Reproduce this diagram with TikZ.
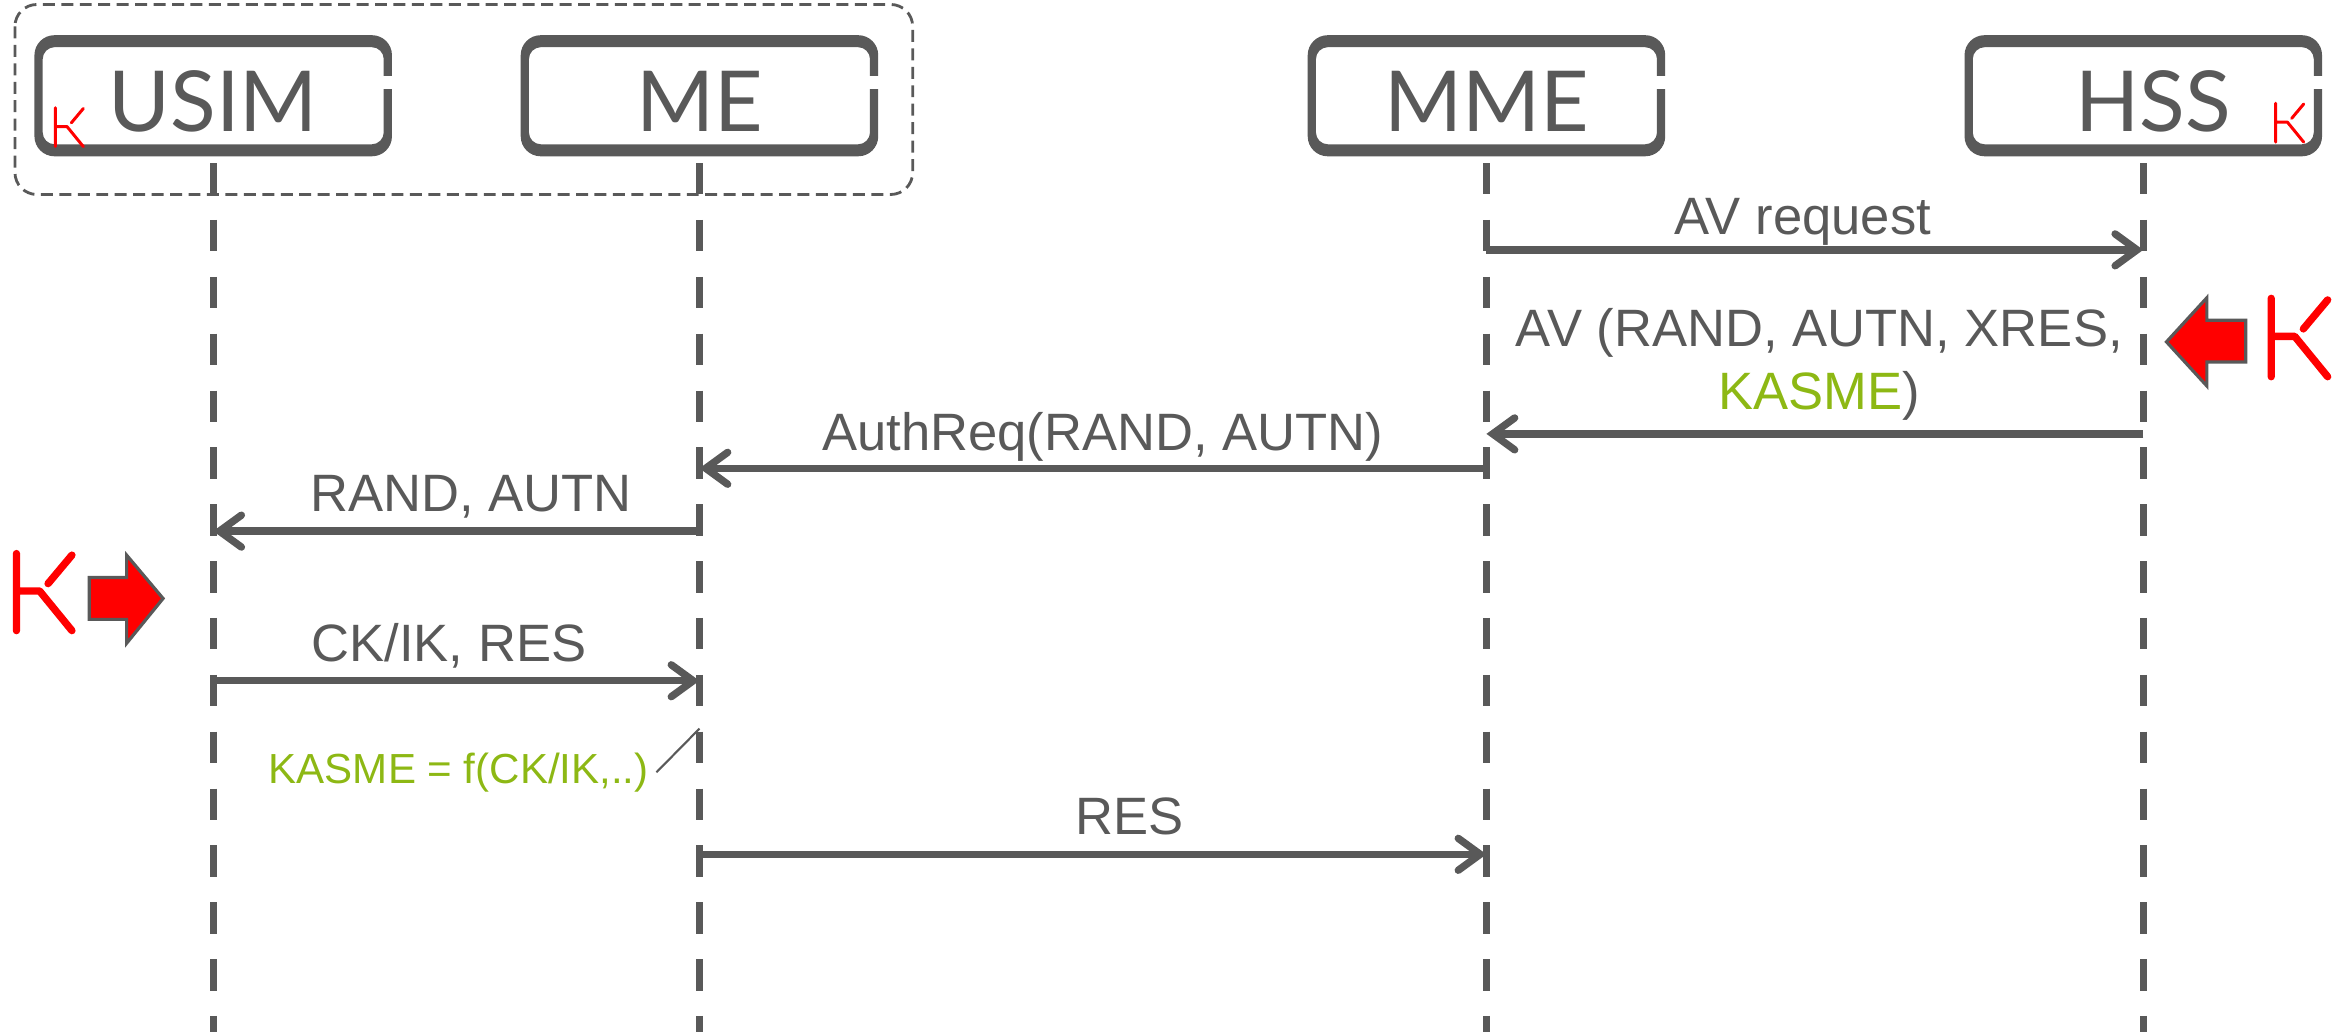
\documentclass[tikz,border=0pt]{standalone}
\usepackage{fontspec}
\setmainfont{Liberation Sans}
\newfontfamily\titlefont{Lato}
\usetikzlibrary{arrows.meta}

\definecolor{seqgray}{HTML}{595959}
\definecolor{keygreen}{HTML}{8DB814}
\definecolor{keyred}{HTML}{FF0000}

\tikzset{
  entity/.style={minimum width=3.57cm,minimum height=1.2cm,inner sep=0pt,
    text=seqgray,font=\titlefont\fontsize{24}{28}\selectfont,
    text height=0.84cm,text depth=0.12cm},
  lifeline/.style={seqgray,line width=2.1pt,dash pattern=on 0.315cm off 0.255cm},
  msg/.style={seqgray,line width=2.1pt,
    -{Straight Barb[length=0.22cm,width=0.32cm,line cap=round]}},
  msglabel/.style={text=seqgray,font=\fontsize{15}{18}\selectfont,inner sep=0pt,anchor=base},
  keynote/.style={text=keygreen,font=\fontsize{12}{14}\selectfont,inner sep=2pt},
  groupbox/.style={seqgray,line width=0.8pt,dash pattern=on 0.12cm off 0.065cm,
    rounded corners=0.22cm},
  blockarrow/.style={fill=keyred,draw=seqgray,line width=0.9pt,line join=miter},
  kay/.pic={\draw[keyred,line cap=round,line join=round]
      (0,0) -- (0,1) (0,0.485) -- (0.3,0.485) -- (0.72,1)
      (0.41,0.39) -- (0.72,0.02);}
}

% thick frame with a notch on the right side
\newcommand{\entityframe}[1]{%
  \fill[seqgray,even odd rule]
    [rounded corners=0.2cm] (#1.north west) rectangle (#1.south east)
    [rounded corners=0.12cm] ([shift={(5.5,8)}]#1.north west) rectangle ([shift={(-5.5,-8)}]#1.south east);
  \fill[white] ([shift={(-7,27)}]#1.north east) rectangle ([shift={(1,36)}]#1.north east);
}

\begin{document}
\begin{tikzpicture}[x=0.015cm,y=-0.015cm]
\useasboundingbox (0,0) rectangle (1568,690);

\draw[groupbox] (10,3) rectangle (610,130);

\node[entity] (usim) at (142.5,64) {USIM};
\node[entity] (me) at (467.5,64) {ME};
\node[entity] (mme) at (993.5,64) {MME};
\node[entity] (hss) at (1432.5,64) {\hspace*{0.2cm}HSS};
\entityframe{usim}
\entityframe{me}
\entityframe{mme}
\entityframe{hss}

% keys held by USIM and HSS
\pic[scale=26,line width=0.85pt] at (37,72) {kay};
\pic[scale=26,line width=0.85pt] at (1521,69) {kay};

\draw[lifeline] (usim |- 0,109) -- (usim |- 0,690);
\draw[lifeline] (me |- 0,109) -- (me |- 0,690);
\draw[lifeline] (mme |- 0,109) -- (mme |- 0,690);
\draw[lifeline] (hss |- 0,109) -- (hss |- 0,690);

\draw[msg] (mme |- 0,167) -- (hss |- 0,167);
\node[msglabel] (avreq) at (1205,157) {AV request};

\draw[blockarrow] (1501,214) -- (1475,214) -- (1475,199) -- (1448,228.5)
  -- (1475,258) -- (1475,242) -- (1501,242) -- cycle;
\pic[scale=52.4,line width=2.1pt] at (1518,199.4) {kay};

\draw[msg] (hss |- 0,290) -- (mme |- 0,290);
\node[msglabel,anchor=south,align=center] (avresp) at (1216,281.5)
  {AV (RAND, AUTN, XRES,\\\textcolor{keygreen}{KASME})};

\draw[msg] (mme |- 0,313) -- (me |- 0,313);
\node[msglabel] (authreq) at (737,301) {AuthReq(RAND, AUTN)};

\draw[msg] (me |- 0,355) -- (usim |- 0,355);
\node[msglabel] (randautn) at (315,342) {RAND, AUTN};

\pic[scale=51.5,line width=2.1pt] at (11,370) {kay};
\draw[blockarrow] (59.7,386) -- (84.6,386) -- (84.6,371) -- (109,400)
  -- (84.6,430) -- (84.6,414) -- (59.7,414) -- cycle;

\draw[msg] (usim |- 0,455) -- (me |- 0,455);
\node[msglabel] (ckik) at (300,442) {CK/IK, RES};

\node[keynote,anchor=base west] (kasme) at (174.5,523.5) {KASME = f(CK/IK,..)};
\draw[seqgray,line width=0.6pt] (kasme.east) -- (me |- 0,487);

\draw[msg] (me |- 0,571) -- (mme |- 0,571);
\node[msglabel] (res) at (755,558) {RES};
\end{tikzpicture}
\end{document}
